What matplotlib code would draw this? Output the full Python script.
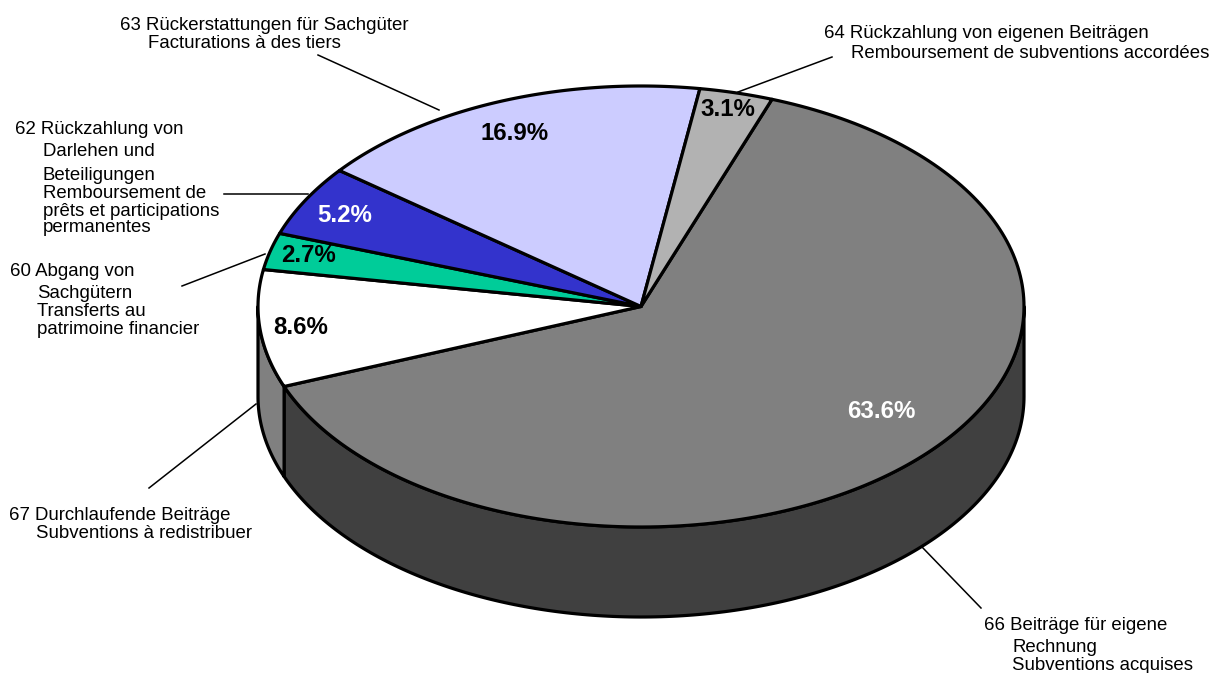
import numpy as np
import matplotlib
matplotlib.use('Agg')
import matplotlib.pyplot as plt

plt.rcParams['font.family'] = ['Liberation Sans', 'DejaVu Sans']

# slices, clockwise from the 66 slice
codes = ['66', '67', '60', '62', '63', '64']
values = [63.6, 8.6, 2.7, 5.2, 16.9, 3.1]
top_colors = ['#808080', '#ffffff', '#00cc99', '#3333cc', '#ccccff', '#b2b2b2']
side_colors = ['#404040', '#808080', '#006650', '#1a1a66', '#666680', '#595959']
pct_colors = ['white', 'black', 'black', 'white', 'black', 'black']
pct_pos = [(881, 411), (301, 328), (308, 255), (345, 215), (515, 134), (728, 110)]

labels = {
    '63': [(120, 25, '63 Rückerstattungen für Sachgüter'), (148, 44, 'Facturations à des tiers')],
    '64': [(824, 34, '64 Rückzahlung von eigenen Beiträgen'), (851, 54, 'Remboursement de subventions accordées')],
    '62': [(15, 130, '62 Rückzahlung von'), (43, 152, 'Darlehen und'), (43, 175, 'Beteiligungen'),
           (43, 193, 'Remboursement de'), (43, 211, 'prêts et participations'), (43, 228, 'permanentes')],
    '60': [(10, 271, '60 Abgang von'), (37, 293, 'Sachgütern'), (37, 311, 'Transferts au'),
           (37, 329, 'patrimoine financier')],
    '67': [(9, 515, '67 Durchlaufende Beiträge'), (36, 534, 'Subventions à redistribuer')],
    '66': [(984, 626, '66 Beiträge für eigene'), (1012, 648, 'Rechnung'), (1012, 666, 'Subventions acquises')],
}
leaders = [
    ((318, 55), (439, 110)),
    ((832, 57), (738, 92)),
    ((224, 194), (308, 194)),
    ((182, 286), (265, 254)),
    ((149, 488), (256, 404)),
    ((922, 547), (981, 608)),
]

cx, cy = 641, 306.5
rx, ry = 383, 220.5
depth = 90
start = 70
lw = 2.3

fig, ax = plt.subplots(figsize=(12.12, 6.73), dpi=100)
ax.set_position([0, 0, 1, 1])
ax.set_xlim(0, 1212)
ax.set_ylim(673, 0)
ax.axis('off')


def rim(a, b, dy=0):
    t = np.radians(np.linspace(a, b, 200))
    return cx + rx * np.cos(t), cy - ry * np.sin(t) + dy


edges = start - np.cumsum([0] + values) * 360 / sum(values)

# side walls, only the part of a slice facing front (-180..0 degrees)
for i in range(len(values)):
    a = min(edges[i], 0)
    b = max(edges[i + 1], -180)
    if a <= b:
        continue
    x, y = rim(a, b)
    x2, y2 = rim(b, a, depth)
    ax.fill(np.r_[x, x2], np.r_[y, y2], facecolor=side_colors[i], edgecolor='black',
            lw=lw, joinstyle='round', zorder=2)

# top faces
for i in range(len(values)):
    x, y = rim(edges[i], edges[i + 1])
    ax.fill(np.r_[cx, x], np.r_[cy, y], facecolor=top_colors[i], edgecolor='black',
            lw=lw, joinstyle='round', zorder=3)

for v, c, (x, y) in zip(values, pct_colors, pct_pos):
    ax.text(x, y, f'{v}%', color=c, fontsize=17.3, fontweight='bold', ha='center', va='center', zorder=5)

for (p, q) in leaders:
    ax.plot([p[0], q[0]], [p[1], q[1]], color='black', lw=1.1, zorder=1)

for lines in labels.values():
    for x, y, s in lines:
        ax.text(x, y, s, fontsize=13.4, color='black', ha='left', va='center')

fig.savefig('out.png', dpi=100)
